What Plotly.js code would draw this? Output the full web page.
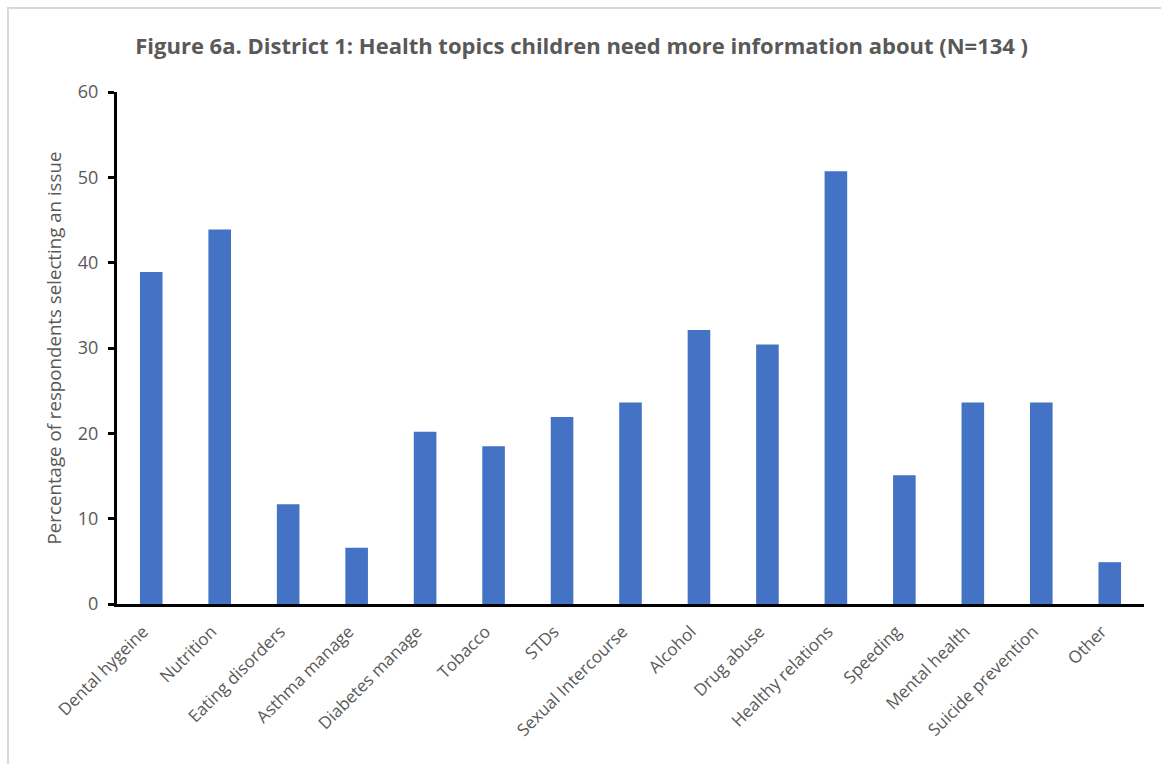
<!DOCTYPE html>
<html>
<head>
<meta charset="utf-8">
<script src="https://cdn.plot.ly/plotly-3.0.1.min.js"></script>
<style>
html,body{margin:0;padding:0;background:#fff;}
#frame{position:absolute;left:7px;top:7px;width:1160px;height:770px;border-left:2px solid #d9d9d9;border-top:2px solid #d9d9d9;box-sizing:border-box;z-index:5;pointer-events:none;}
#chart{position:absolute;left:0;top:0;width:1161px;height:764px;}
</style>
</head>
<body>
<div id="chart"></div>
<div id="frame"></div>
<script>
const categories = ["Dental hygeine","Nutrition","Eating disorders","Asthma manage","Diabetes manage","Tobacco","STDs","Sexual Intercourse","Alcohol","Drug abuse","Healthy relations","Speeding","Mental health","Suicide prevention","Other"];
const percentages = [38.9, 43.9, 11.7, 6.6, 20.2, 18.5, 21.9, 23.6, 32.1, 30.4, 50.7, 15.1, 23.6, 23.6, 4.9];
const yTicks = [0, 10, 20, 30, 40, 50, 60];

const FONT = "'Open Sans', sans-serif";
const data = [{
  type: "bar",
  x: categories,
  y: percentages,
  marker: {color: "#4472C4", line: {width: 0}},
  width: 0.33,
  hoverinfo: "x+y"
}];
const layout = {
  width: 1161, height: 764,
  paper_bgcolor: "rgba(0,0,0,0)",
  plot_bgcolor: "rgba(0,0,0,0)",
  margin: {l: 117, r: 17, t: 92, b: 160},
  title: {
    text: "<b>Figure 6a. District 1: Health topics children need more information about (N=134 )</b>",
    font: {family: FONT, size: 22, color: "#595959"},
    x: 0.501, xanchor: "center", y: 0.94, yanchor: "middle"
  },
  showlegend: false,
  xaxis: {
    type: "category",
    tickangle: -45,
    tickfont: {family: FONT, size: 17, color: "#595959"},
    showline: true, linecolor: "#000", linewidth: 3,
    ticks: "", showgrid: false, zeroline: false,
    ticklabelshift: -8, ticklabelstandoff: 8,
    automargin: false
  },
  yaxis: {
    range: [0, 60],
    tickvals: yTicks,
    ticktext: yTicks.map(String),
    tickfont: {family: FONT, size: 18, color: "#595959"},
    showline: true, linecolor: "#000", linewidth: 3,
    ticks: "outside", ticklen: 6, tickwidth: 3, tickcolor: "#000",
    ticklabelstandoff: 6,
    showgrid: false, zeroline: false,
    title: {text: "Percentage of respondents selecting an issue", font: {family: FONT, size: 18.7, color: "#595959"}, standoff: 12},
    automargin: false
  }
};
Plotly.newPlot("chart", data, layout, {displayModeBar: false, staticPlot: true});
</script>
</body>
</html>
